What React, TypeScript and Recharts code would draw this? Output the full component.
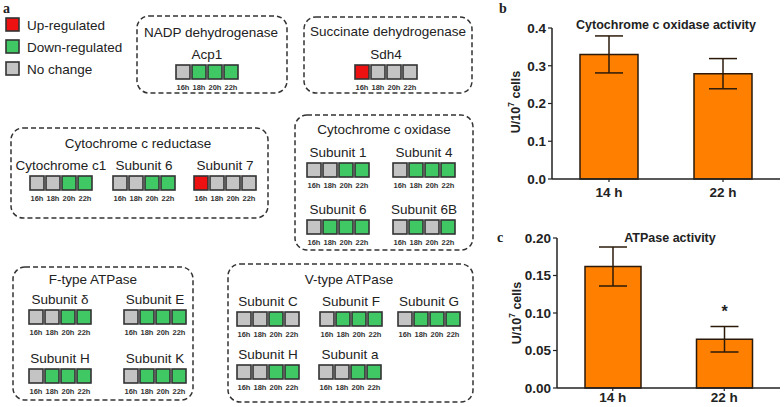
import React from 'react';
import { BarChart, Bar, XAxis, YAxis, ErrorBar, LabelList } from 'recharts';

type Status = 'U' | 'D' | 'N';

// time points of the expression grid
const timePoints = ['16h', '18h', '20h', '22h'];

// expression status per gene (U = up, D = down, N = no change)
const acp1: Status[] = ['N', 'D', 'D', 'D'];
const sdh4: Status[] = ['U', 'N', 'N', 'N'];
const cytC1: Status[] = ['N', 'N', 'D', 'D'];
const redSub6: Status[] = ['N', 'N', 'D', 'D'];
const redSub7: Status[] = ['U', 'N', 'N', 'N'];
const oxSub1: Status[] = ['N', 'N', 'D', 'D'];
const oxSub4: Status[] = ['N', 'D', 'D', 'D'];
const oxSub6: Status[] = ['N', 'D', 'D', 'D'];
const oxSub6B: Status[] = ['N', 'D', 'N', 'D'];
const fSubDelta: Status[] = ['N', 'N', 'D', 'D'];
const fSubE: Status[] = ['N', 'D', 'D', 'D'];
const fSubH: Status[] = ['N', 'D', 'D', 'D'];
const fSubK: Status[] = ['N', 'D', 'D', 'D'];
const vSubC: Status[] = ['N', 'N', 'D', 'N'];
const vSubF: Status[] = ['N', 'D', 'D', 'D'];
const vSubG: Status[] = ['N', 'D', 'D', 'D'];
const vSubH: Status[] = ['N', 'N', 'D', 'D'];
const vSubA: Status[] = ['N', 'N', 'D', 'D'];

// enzyme activity
const activityTimes = ['14 h', '22 h'];
const coxMean = [0.33, 0.279];
const coxSem = [0.049, 0.04];
const atpMean = [0.162, 0.065];
const atpSem = [0.026, 0.017];
const atpSig = ['', '*'];

const FONT = '"Liberation Sans", Arial, sans-serif';
const SERIF = '"Liberation Serif", "Times New Roman", serif';
const INK = '#222';

const statusColor: Record<Status, string> = {
  U: '#EE1111',
  D: '#40C864',
  N: '#C4C4C4',
};

const legendItems: { s: Status; label: string }[] = [
  { s: 'U', label: 'Up-regulated' },
  { s: 'D', label: 'Down-regulated' },
  { s: 'N', label: 'No change' },
];

interface Gene {
  name: string;
  s: Status[];
  x: number;
  y: number;
}

interface Group {
  title: string;
  x: number;
  y: number;
  w: number;
  h: number;
  tx: number;
  ty: number;
  genes: Gene[];
}

const groups: Group[] = [
  {
    title: 'NADP dehydrogenase', x: 137, y: 16, w: 150, h: 77, tx: 211, ty: 37,
    genes: [{ name: 'Acp1', s: acp1, x: 176, y: 65 }],
  },
  {
    title: 'Succinate dehydrogenase', x: 304, y: 17, w: 168, h: 76, tx: 388, ty: 36,
    genes: [{ name: 'Sdh4', s: sdh4, x: 355, y: 65 }],
  },
  {
    title: 'Cytochrome c reductase', x: 11, y: 128, w: 257, h: 90, tx: 138, ty: 148,
    genes: [
      { name: 'Cytochrome c1', s: cytC1, x: 30, y: 176 },
      { name: 'Subunit 6', s: redSub6, x: 113, y: 176 },
      { name: 'Subunit 7', s: redSub7, x: 194, y: 176 },
    ],
  },
  {
    title: 'Cytochrome c oxidase', x: 295, y: 115, w: 178, h: 135, tx: 384, ty: 134,
    genes: [
      { name: 'Subunit 1', s: oxSub1, x: 307, y: 163 },
      { name: 'Subunit 4', s: oxSub4, x: 393, y: 163 },
      { name: 'Subunit 6', s: oxSub6, x: 307, y: 220 },
      { name: 'Subunit 6B', s: oxSub6B, x: 393, y: 220 },
    ],
  },
  {
    title: 'F-type ATPase', x: 13, y: 267, w: 180, h: 133, tx: 93, ty: 284,
    genes: [
      { name: 'Subunit δ', s: fSubDelta, x: 29, y: 310 },
      { name: 'Subunit E', s: fSubE, x: 124, y: 310 },
      { name: 'Subunit H', s: fSubH, x: 29, y: 369 },
      { name: 'Subunit K', s: fSubK, x: 124, y: 369 },
    ],
  },
  {
    title: 'V-type ATPase', x: 228, y: 264, w: 245, h: 138, tx: 349, ty: 284,
    genes: [
      { name: 'Subunit C', s: vSubC, x: 237, y: 312 },
      { name: 'Subunit F', s: vSubF, x: 320, y: 312 },
      { name: 'Subunit G', s: vSubG, x: 398, y: 312 },
      { name: 'Subunit H', s: vSubH, x: 237, y: 365 },
      { name: 'Subunit a', s: vSubA, x: 319, y: 365 },
    ],
  },
];

const SQ = 14;
const PITCH = 16;

function GeneCells({ g }: { g: Gene }) {
  const cx = g.x + (PITCH * 4 - 2) / 2;
  return (
    <g>
      <text x={cx} y={g.y - 6} textAnchor="middle" fontSize={13.5} fill={INK} fontFamily={FONT}>
        {g.name}
      </text>
      {g.s.map((s, i) => (
        <rect
          key={i}
          x={g.x + i * PITCH}
          y={g.y}
          width={SQ}
          height={SQ}
          fill={statusColor[s]}
          stroke="#333"
          strokeWidth={1.6}
        />
      ))}
      {timePoints.map((t, i) => (
        <text
          key={t}
          x={g.x + i * PITCH + SQ / 2}
          y={g.y + 25}
          textAnchor="middle"
          fontSize={7.5}
          fontWeight={700}
          fill="#333"
          fontFamily={FONT}
        >
          {t}
        </text>
      ))}
    </g>
  );
}

function YLabel({ x, y }: { x: number; y: number }) {
  return (
    <text
      x={x}
      y={y}
      transform={`rotate(-90, ${x}, ${y})`}
      textAnchor="middle"
      dominantBaseline="central"
      fontSize={12.5}
      fontWeight={700}
      fontFamily={FONT}
      fill={INK}
    >
      U/10
      <tspan dy={-5} fontSize={8.5}>7</tspan>
      <tspan dy={5}> cells</tspan>
    </text>
  );
}

function Diagram() {
  return (
    <svg width={784} height={407} style={{ position: 'absolute', left: 0, top: 0, pointerEvents: 'none' }}>
      <text x={3} y={13} fontSize={14} fontWeight={700} fontFamily={SERIF} fill={INK}>a</text>
      {legendItems.map((it, i) => (
        <g key={it.s}>
          <rect x={6} y={18 + i * 22} width={13} height={13} fill={statusColor[it.s]} stroke="#333" strokeWidth={1.6} />
          <text x={27} y={30 + i * 22} fontSize={13.5} fill={INK} fontFamily={FONT}>{it.label}</text>
        </g>
      ))}
      {groups.map((gr) => (
        <g key={gr.title}>
          <rect
            x={gr.x}
            y={gr.y}
            width={gr.w}
            height={gr.h}
            rx={12}
            fill="none"
            stroke="#333"
            strokeWidth={1.5}
            strokeDasharray="5 3"
          />
          <text x={gr.tx} y={gr.ty} textAnchor="middle" fontSize={13.5} fill={INK} fontFamily={FONT}>
            {gr.title}
          </text>
          {gr.genes.map((g) => (
            <GeneCells key={g.name + g.x + g.y} g={g} />
          ))}
        </g>
      ))}

      {/* panel letters, titles, y labels of the bar charts */}
      <text x={499} y={13} fontSize={14} fontWeight={700} fontFamily={SERIF} fill={INK}>b</text>
      <text x={497} y={242} fontSize={14} fontWeight={700} fontFamily={SERIF} fill={INK}>c</text>
      <text x={666} y={28.5} textAnchor="middle" fontSize={12.5} fontWeight={700} fontFamily={FONT} fill={INK}>
        Cytochrome c oxidase activity
      </text>
      <text x={670} y={241.5} textAnchor="middle" fontSize={12.5} fontWeight={700} fontFamily={FONT} fill={INK}>
        ATPase activity
      </text>
      <YLabel x={516} y={102} />
      <YLabel x={517} y={313} />
    </svg>
  );
}

const coxData = activityTimes.map((t, i) => ({ t, mean: coxMean[i], sem: coxSem[i] }));
const atpData = activityTimes.map((t, i) => ({ t, mean: atpMean[i], sem: atpSem[i], sig: atpSig[i] }));

const axisLine = { stroke: INK, strokeWidth: 1.5 };
const tickStyle = { fill: INK, fontSize: 13.5, fontWeight: 700, fontFamily: FONT };

export default function App() {
  return (
    <div style={{ position: 'fixed', left: 0, top: 0, width: 784, height: 407, background: '#fff', fontFamily: FONT }}>
      <div style={{ position: 'absolute', left: 485, top: 0 }}>
        <BarChart width={299} height={205} data={coxData} margin={{ top: 28, right: 4, bottom: 6, left: 0 }}>
          <XAxis
            dataKey="t"
            height={20}
            tickSize={3}
            tickMargin={5}
            axisLine={axisLine}
            tickLine={{ stroke: INK, strokeWidth: 1.2 }}
            tick={tickStyle}
          />
          <YAxis
            width={67}
            domain={[0, 0.4]}
            ticks={[0, 0.1, 0.2, 0.3, 0.4]}
            interval={0}
            tickFormatter={(v: number) => v.toFixed(1)}
            tickSize={4}
            tickMargin={2}
            axisLine={axisLine}
            tickLine={{ stroke: INK, strokeWidth: 1.2 }}
            tick={tickStyle}
          />
          <Bar dataKey="mean" fill="#FF8000" stroke="#2b1a0a" strokeWidth={1.5} barSize={58} isAnimationActive={false}>
            <ErrorBar dataKey="sem" width={14} strokeWidth={1.5} stroke="#2b1a0a" direction="y" isAnimationActive={false} />
          </Bar>
        </BarChart>
      </div>
      <div style={{ position: 'absolute', left: 485, top: 205 }}>
        <BarChart width={299} height={202} data={atpData} margin={{ top: 33, right: 4, bottom: 0, left: 0 }}>
          <XAxis
            dataKey="t"
            height={19}
            tickSize={3}
            tickMargin={1}
            axisLine={axisLine}
            tickLine={{ stroke: INK, strokeWidth: 1.2 }}
            tick={tickStyle}
          />
          <YAxis
            width={72}
            domain={[0, 0.2]}
            ticks={[0, 0.05, 0.1, 0.15, 0.2]}
            interval={0}
            tickFormatter={(v: number) => v.toFixed(2)}
            tickSize={4}
            tickMargin={2}
            axisLine={axisLine}
            tickLine={{ stroke: INK, strokeWidth: 1.2 }}
            tick={tickStyle}
          />
          <Bar dataKey="mean" fill="#FF8000" stroke="#2b1a0a" strokeWidth={1.5} barSize={56} isAnimationActive={false}>
            <ErrorBar dataKey="sem" width={14} strokeWidth={1.5} stroke="#2b1a0a" direction="y" isAnimationActive={false} />
            <LabelList dataKey="sig" position="top" offset={22} fill={INK} fontSize={16} fontWeight={700} fontFamily={FONT} />
          </Bar>
        </BarChart>
      </div>
      <Diagram />
    </div>
  );
}
